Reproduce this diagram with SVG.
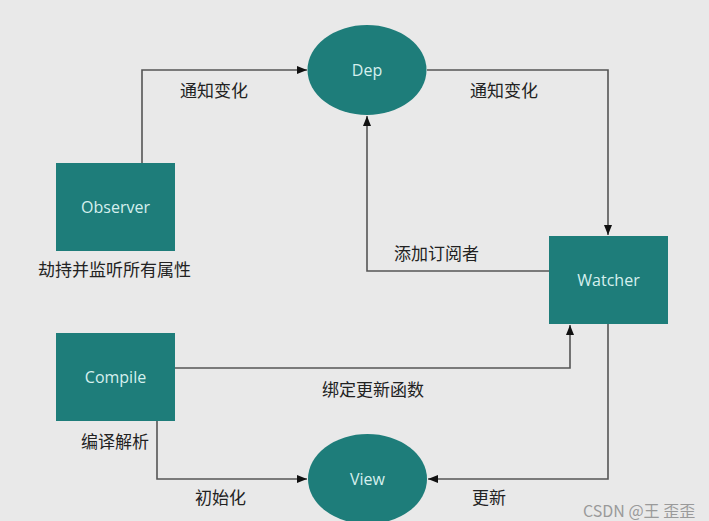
<svg xmlns="http://www.w3.org/2000/svg" width="709" height="521" viewBox="0 0 709 521">
<defs>
<marker id="arr" viewBox="0 0 10 8" refX="10" refY="4" markerWidth="10" markerHeight="8" markerUnits="userSpaceOnUse" orient="auto">
<path d="M0,0 L10,4 L0,8 Z" fill="#111"/>
</marker>
</defs>
<style>
.node{fill:#1e7d7a;}
.nt{fill:#d6f0ee;font-family:"Open Sans","Noto Sans",sans-serif;font-size:16px;text-anchor:middle;dominant-baseline:central;}
.lbl{fill:#222;font-family:"Noto Sans CJK SC",sans-serif;font-size:17px;dominant-baseline:central;}
.ln{fill:none;stroke:#555;stroke-width:1.6;}
.wm{fill:#9a9a9a;font-family:"Noto Sans CJK SC",sans-serif;font-size:16px;dominant-baseline:central;}
</style>
<rect width="709" height="521" fill="#e9e9e9"/>
<g id="connectors">
<path class="ln" d="M142,163 V70 H307" marker-end="url(#arr)"/>
<path class="ln" d="M427,70 H608 V235" marker-end="url(#arr)"/>
<path class="ln" d="M549,271 H367 V116" marker-end="url(#arr)"/>
<path class="ln" d="M175,368 H570 V325" marker-end="url(#arr)"/>
<path class="ln" d="M157,421 V479 H307" marker-end="url(#arr)"/>
<path class="ln" d="M608,324 V479 H428" marker-end="url(#arr)"/>
</g>
<g id="labels">
<text class="lbl" x="180" y="89">通知变化</text>
<text class="lbl" x="470" y="89">通知变化</text>
<text class="lbl" x="394" y="252">添加订阅者</text>
<text class="lbl" x="322" y="388">绑定更新函数</text>
<text class="lbl" x="195" y="496">初始化</text>
<text class="lbl" x="472" y="496">更新</text>
</g>
<g id="dep">
<ellipse class="node" cx="367" cy="70" rx="59.5" ry="45"/>
<text class="nt" x="367" y="70">Dep</text>
</g>
<g id="observer">
<rect class="node" x="56" y="163" width="119" height="88"/>
<text class="nt" x="115.5" y="207">Observer</text>
<text class="lbl" x="38" y="268">劫持并监听所有属性</text>
</g>
<g id="watcher">
<rect class="node" x="549" y="236" width="119" height="88"/>
<text class="nt" x="608.5" y="280">Watcher</text>
</g>
<g id="compile">
<rect class="node" x="56" y="333" width="119" height="88"/>
<text class="nt" x="115.5" y="377">Compile</text>
<text class="lbl" x="81" y="440">编译解析</text>
</g>
<g id="view">
<ellipse class="node" cx="367.5" cy="479" rx="59.5" ry="45"/>
<text class="nt" x="367.5" y="479">View</text>
</g>
<text class="wm" x="583" y="510">CSDN @王 歪歪</text>
</svg>
